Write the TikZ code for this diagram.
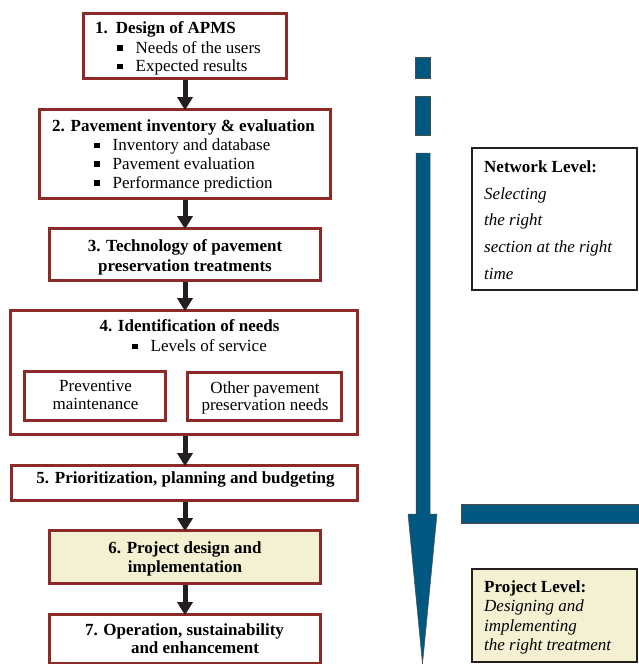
\documentclass[tikz,border=0pt]{standalone}
\usepackage{fontspec}
\setmainfont{Liberation Serif}
\usetikzlibrary{positioning}
\usetikzlibrary{arrows.meta}
\definecolor{boxred}{RGB}{140,42,40}
\definecolor{levelblue}{RGB}{0,88,128}
\definecolor{paleyellow}{RGB}{243,241,210}
\definecolor{arrowblack}{RGB}{35,31,32}
\newcommand{\sqbul}{\rule[2.5pt]{5.5pt}{5.5pt}\hspace{13pt}}

\begin{document}
\begin{tikzpicture} [x=1pt,y=-1pt,
            stepbox/.style={draw=boxred,line width=2.6pt,rectangle,inner sep=0pt},
            levelbox/.style={draw=arrowblack,line width=2.2pt,rectangle,inner sep=0pt},
            flow/.style={-{Triangle[width=15pt,length=13pt]},arrowblack,line width=5pt,shorten >=-2pt},
            bluebar/.style={fill=levelblue,draw=arrowblack!80,line width=0.5pt},
            txt/.style={inner sep=0pt,font=\fontsize{17}{19.6}\selectfont},
            ttl/.style={inner sep=0pt,font=\fontsize{17}{19.6}\selectfont\bfseries}]

\useasboundingbox (0,0) rectangle (639,664);

%B1
\node (b1) at (185,46) [stepbox,minimum width=203pt,minimum height=65pt] {};
\node (t1) at (95,33.3) [ttl,anchor=base west] {1.\hspace{8pt}Design of APMS};
\node (i1a) at (117,53.3) [txt,anchor=base west] {\sqbul Needs of the users};
\node (i1b) at (117,71.7) [txt,anchor=base west] {\sqbul Expected results};

%B2
\node (b2) at (185,154) [stepbox,minimum width=291pt,minimum height=89pt] {};
\node (t2) at (183.5,131.7) [ttl,anchor=base] {2. Pavement inventory \& evaluation};
\node (i2a) at (94,150.7) [txt,anchor=base west] {\sqbul Inventory and database};
\node (i2b) at (94,169.3) [txt,anchor=base west] {\sqbul Pavement evaluation};
\node (i2c) at (94,188.3) [txt,anchor=base west] {\sqbul Performance prediction};

%B3
\node (b3) at (185,254.5) [stepbox,minimum width=271pt,minimum height=52pt] {};
\node (t3) at (185,239.3) [ttl,anchor=north,align=center] {3. Technology of pavement\\preservation treatments};

%B4
\node (b4) at (184,372.5) [stepbox,minimum width=347pt,minimum height=124pt] {};
\node (t4) at (189.5,331.7) [ttl,anchor=base] {4. Identification of needs};
\node (i4a) at (132,351.7) [txt,anchor=base west] {\sqbul Levels of service};
\node (pm) at (95,396) [stepbox,minimum width=141pt,minimum height=49pt] {};
\node (tpm) at (95.5,380.4) [txt,anchor=north,align=center,font=\fontsize{17}{17.6}\selectfont] {Preventive\\maintenance};
\node (op) at (264.5,396.5) [stepbox,minimum width=154pt,minimum height=48pt] {};
\node (top) at (265,381.6) [txt,anchor=north,align=center,font=\fontsize{17}{17}\selectfont] {Other pavement\\preservation needs};

%B5
\node (b5) at (184.5,483) [stepbox,minimum width=346pt,minimum height=35pt] {};
\node (t5) at (185.5,483.3) [ttl,anchor=base] {5. Prioritization, planning and budgeting};

%B6
\node (b6) at (185,557) [stepbox,fill=paleyellow,minimum width=271pt,minimum height=53pt] {};
\node (t6) at (185,541) [ttl,anchor=north,align=center] {6. Project design and\\implementation};

%B7
\node (b7) at (185,639) [stepbox,minimum width=271pt,minimum height=49pt] {};
\node (t7) at (184.5,623.3) [ttl,anchor=north,align=center,font=\fontsize{17}{18.3}\selectfont\bfseries] {7. Operation, sustainability\\\hspace*{21pt}and enhancement};

% flow arrows
\draw [flow] (b1) -- (b2);
\draw [flow] (b2) -- (b3);
\draw [flow] (b3) -- (b3 |- b4.north);
\draw [flow] (b3 |- b4.south) -- (b3 |- b5.north);
\draw [flow] (b3 |- b5.south) -- (b6);
\draw [flow] (b6) -- (b7);

% network to project arrow
\path [bluebar] (415,57) rectangle (430,78);
\path [bluebar] (415,96) rectangle (430,135);
\path [bluebar] (416,153) -- (430,153) -- (430,514) -- (437,514)
   -- (422.5,664) -- (408,514) -- (416,514) -- cycle;
\path [bluebar] (461,504) rectangle (645,523);

%Network level
\node (net) at (554.5,219) [levelbox,minimum width=165pt,minimum height=142pt] {};
\node (nett) at (484,160.5) [txt,anchor=north west,align=left,font=\fontsize{17}{26.7}\selectfont]
   {\textbf{Network Level:}\\\textit{Selecting}\\\textit{the right}\\\textit{section at the right}\\\textit{time}};

%Project level
\node (proj) at (554.5,615.5) [levelbox,fill=paleyellow,minimum width=165pt,minimum height=93pt] {};
\node (projt) at (484,580.4) [txt,anchor=north west,align=left,font=\fontsize{17}{19.4}\selectfont]
   {\textbf{Project Level:}\\\textit{Designing and}\\\textit{implementing}\\\textit{the right treatment}};

\end{tikzpicture}
\end{document}
